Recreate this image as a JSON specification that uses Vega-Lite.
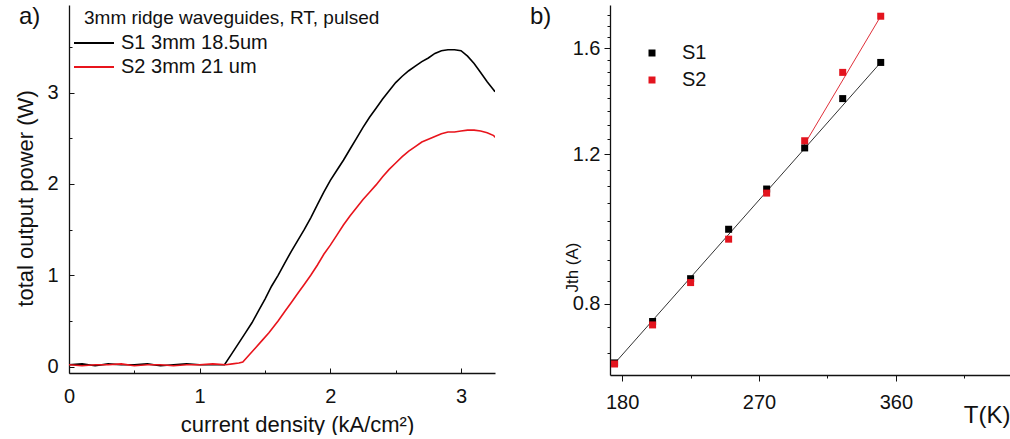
{
  "$schema": "https://vega.github.io/schema/vega-lite/v6.json",
  "padding": {"left": 14, "top": 5, "right": 2, "bottom": 0},
  "background": "white",
  "config": {
    "font": "Liberation Sans",
    "view": {"stroke": null},
    "axis": {"grid": false, "domainColor": "#111", "domainWidth": 1.3, "tickColor": "#111", "tickWidth": 1, "labelColor": "#111", "titleColor": "#111", "labelFontSize": 20, "titleFontSize": 22, "titleFontWeight": "normal", "labelFlush": false, "labelOverlap": false},
    "legend": {"titleFontWeight": "normal", "titleColor": "#111", "labelColor": "#111"},
    "title": {"fontWeight": "normal", "color": "#111"}
  },
  "datasets": {
    "power": [
      {"J": 0.0, "P": 0.02, "sample": "S1 3mm 18.5um"},
      {"J": 0.1, "P": 0.03, "sample": "S1 3mm 18.5um"},
      {"J": 0.2, "P": 0.01, "sample": "S1 3mm 18.5um"},
      {"J": 0.3, "P": 0.03, "sample": "S1 3mm 18.5um"},
      {"J": 0.4, "P": 0.02, "sample": "S1 3mm 18.5um"},
      {"J": 0.5, "P": 0.02, "sample": "S1 3mm 18.5um"},
      {"J": 0.6, "P": 0.03, "sample": "S1 3mm 18.5um"},
      {"J": 0.7, "P": 0.01, "sample": "S1 3mm 18.5um"},
      {"J": 0.8, "P": 0.02, "sample": "S1 3mm 18.5um"},
      {"J": 0.9, "P": 0.03, "sample": "S1 3mm 18.5um"},
      {"J": 1.0, "P": 0.02, "sample": "S1 3mm 18.5um"},
      {"J": 1.1, "P": 0.02, "sample": "S1 3mm 18.5um"},
      {"J": 1.19, "P": 0.02, "sample": "S1 3mm 18.5um"},
      {"J": 1.25, "P": 0.15, "sample": "S1 3mm 18.5um"},
      {"J": 1.3, "P": 0.26, "sample": "S1 3mm 18.5um"},
      {"J": 1.35, "P": 0.37, "sample": "S1 3mm 18.5um"},
      {"J": 1.4, "P": 0.48, "sample": "S1 3mm 18.5um"},
      {"J": 1.45, "P": 0.61, "sample": "S1 3mm 18.5um"},
      {"J": 1.5, "P": 0.74, "sample": "S1 3mm 18.5um"},
      {"J": 1.55, "P": 0.88, "sample": "S1 3mm 18.5um"},
      {"J": 1.6, "P": 1.0, "sample": "S1 3mm 18.5um"},
      {"J": 1.65, "P": 1.13, "sample": "S1 3mm 18.5um"},
      {"J": 1.7, "P": 1.26, "sample": "S1 3mm 18.5um"},
      {"J": 1.75, "P": 1.38, "sample": "S1 3mm 18.5um"},
      {"J": 1.8, "P": 1.5, "sample": "S1 3mm 18.5um"},
      {"J": 1.85, "P": 1.63, "sample": "S1 3mm 18.5um"},
      {"J": 1.9, "P": 1.77, "sample": "S1 3mm 18.5um"},
      {"J": 1.95, "P": 1.91, "sample": "S1 3mm 18.5um"},
      {"J": 2.0, "P": 2.04, "sample": "S1 3mm 18.5um"},
      {"J": 2.05, "P": 2.15, "sample": "S1 3mm 18.5um"},
      {"J": 2.1, "P": 2.26, "sample": "S1 3mm 18.5um"},
      {"J": 2.15, "P": 2.38, "sample": "S1 3mm 18.5um"},
      {"J": 2.2, "P": 2.5, "sample": "S1 3mm 18.5um"},
      {"J": 2.25, "P": 2.62, "sample": "S1 3mm 18.5um"},
      {"J": 2.3, "P": 2.73, "sample": "S1 3mm 18.5um"},
      {"J": 2.35, "P": 2.83, "sample": "S1 3mm 18.5um"},
      {"J": 2.4, "P": 2.93, "sample": "S1 3mm 18.5um"},
      {"J": 2.45, "P": 3.02, "sample": "S1 3mm 18.5um"},
      {"J": 2.5, "P": 3.11, "sample": "S1 3mm 18.5um"},
      {"J": 2.55, "P": 3.18, "sample": "S1 3mm 18.5um"},
      {"J": 2.6, "P": 3.24, "sample": "S1 3mm 18.5um"},
      {"J": 2.65, "P": 3.29, "sample": "S1 3mm 18.5um"},
      {"J": 2.7, "P": 3.34, "sample": "S1 3mm 18.5um"},
      {"J": 2.75, "P": 3.38, "sample": "S1 3mm 18.5um"},
      {"J": 2.8, "P": 3.43, "sample": "S1 3mm 18.5um"},
      {"J": 2.85, "P": 3.46, "sample": "S1 3mm 18.5um"},
      {"J": 2.9, "P": 3.47, "sample": "S1 3mm 18.5um"},
      {"J": 2.95, "P": 3.47, "sample": "S1 3mm 18.5um"},
      {"J": 3.0, "P": 3.46, "sample": "S1 3mm 18.5um"},
      {"J": 3.05, "P": 3.4, "sample": "S1 3mm 18.5um"},
      {"J": 3.1, "P": 3.32, "sample": "S1 3mm 18.5um"},
      {"J": 3.15, "P": 3.22, "sample": "S1 3mm 18.5um"},
      {"J": 3.2, "P": 3.12, "sample": "S1 3mm 18.5um"},
      {"J": 3.25, "P": 3.03, "sample": "S1 3mm 18.5um"},
      {"J": 3.26, "P": 3.01, "sample": "S1 3mm 18.5um"},
      {"J": 0.0, "P": 0.02, "sample": "S2 3mm 21 um"},
      {"J": 0.1, "P": 0.01, "sample": "S2 3mm 21 um"},
      {"J": 0.2, "P": 0.02, "sample": "S2 3mm 21 um"},
      {"J": 0.3, "P": 0.02, "sample": "S2 3mm 21 um"},
      {"J": 0.4, "P": 0.03, "sample": "S2 3mm 21 um"},
      {"J": 0.5, "P": 0.01, "sample": "S2 3mm 21 um"},
      {"J": 0.6, "P": 0.02, "sample": "S2 3mm 21 um"},
      {"J": 0.7, "P": 0.02, "sample": "S2 3mm 21 um"},
      {"J": 0.8, "P": 0.01, "sample": "S2 3mm 21 um"},
      {"J": 0.9, "P": 0.02, "sample": "S2 3mm 21 um"},
      {"J": 1.0, "P": 0.02, "sample": "S2 3mm 21 um"},
      {"J": 1.1, "P": 0.03, "sample": "S2 3mm 21 um"},
      {"J": 1.2, "P": 0.02, "sample": "S2 3mm 21 um"},
      {"J": 1.25, "P": 0.03, "sample": "S2 3mm 21 um"},
      {"J": 1.3, "P": 0.04, "sample": "S2 3mm 21 um"},
      {"J": 1.33, "P": 0.05, "sample": "S2 3mm 21 um"},
      {"J": 1.38, "P": 0.13, "sample": "S2 3mm 21 um"},
      {"J": 1.43, "P": 0.21, "sample": "S2 3mm 21 um"},
      {"J": 1.48, "P": 0.29, "sample": "S2 3mm 21 um"},
      {"J": 1.53, "P": 0.37, "sample": "S2 3mm 21 um"},
      {"J": 1.6, "P": 0.5, "sample": "S2 3mm 21 um"},
      {"J": 1.65, "P": 0.6, "sample": "S2 3mm 21 um"},
      {"J": 1.7, "P": 0.7, "sample": "S2 3mm 21 um"},
      {"J": 1.75, "P": 0.8, "sample": "S2 3mm 21 um"},
      {"J": 1.8, "P": 0.9, "sample": "S2 3mm 21 um"},
      {"J": 1.85, "P": 1.0, "sample": "S2 3mm 21 um"},
      {"J": 1.9, "P": 1.11, "sample": "S2 3mm 21 um"},
      {"J": 1.95, "P": 1.23, "sample": "S2 3mm 21 um"},
      {"J": 2.0, "P": 1.33, "sample": "S2 3mm 21 um"},
      {"J": 2.05, "P": 1.44, "sample": "S2 3mm 21 um"},
      {"J": 2.1, "P": 1.55, "sample": "S2 3mm 21 um"},
      {"J": 2.15, "P": 1.65, "sample": "S2 3mm 21 um"},
      {"J": 2.2, "P": 1.74, "sample": "S2 3mm 21 um"},
      {"J": 2.25, "P": 1.83, "sample": "S2 3mm 21 um"},
      {"J": 2.3, "P": 1.91, "sample": "S2 3mm 21 um"},
      {"J": 2.35, "P": 1.99, "sample": "S2 3mm 21 um"},
      {"J": 2.4, "P": 2.08, "sample": "S2 3mm 21 um"},
      {"J": 2.45, "P": 2.16, "sample": "S2 3mm 21 um"},
      {"J": 2.5, "P": 2.23, "sample": "S2 3mm 21 um"},
      {"J": 2.55, "P": 2.3, "sample": "S2 3mm 21 um"},
      {"J": 2.6, "P": 2.36, "sample": "S2 3mm 21 um"},
      {"J": 2.65, "P": 2.41, "sample": "S2 3mm 21 um"},
      {"J": 2.7, "P": 2.46, "sample": "S2 3mm 21 um"},
      {"J": 2.75, "P": 2.49, "sample": "S2 3mm 21 um"},
      {"J": 2.8, "P": 2.52, "sample": "S2 3mm 21 um"},
      {"J": 2.85, "P": 2.55, "sample": "S2 3mm 21 um"},
      {"J": 2.9, "P": 2.57, "sample": "S2 3mm 21 um"},
      {"J": 2.95, "P": 2.57, "sample": "S2 3mm 21 um"},
      {"J": 3.0, "P": 2.58, "sample": "S2 3mm 21 um"},
      {"J": 3.05, "P": 2.59, "sample": "S2 3mm 21 um"},
      {"J": 3.1, "P": 2.59, "sample": "S2 3mm 21 um"},
      {"J": 3.15, "P": 2.58, "sample": "S2 3mm 21 um"},
      {"J": 3.2, "P": 2.56, "sample": "S2 3mm 21 um"},
      {"J": 3.25, "P": 2.53, "sample": "S2 3mm 21 um"},
      {"J": 3.26, "P": 2.51, "sample": "S2 3mm 21 um"}
    ],
    "jth": [
      {"T": 175, "Jth": 0.681, "series": "S1"},
      {"T": 200, "Jth": 0.762, "series": "S1"},
      {"T": 225, "Jth": 0.856, "series": "S1"},
      {"T": 250, "Jth": 0.979, "series": "S1"},
      {"T": 275, "Jth": 1.092, "series": "S1"},
      {"T": 300, "Jth": 1.221, "series": "S1"},
      {"T": 325, "Jth": 1.396, "series": "S1"},
      {"T": 350, "Jth": 1.54, "series": "S1"},
      {"T": 175, "Jth": 0.679, "series": "S2"},
      {"T": 200, "Jth": 0.755, "series": "S2"},
      {"T": 225, "Jth": 0.847, "series": "S2"},
      {"T": 250, "Jth": 0.953, "series": "S2"},
      {"T": 275, "Jth": 1.08, "series": "S2"},
      {"T": 300, "Jth": 1.245, "series": "S2"},
      {"T": 325, "Jth": 1.499, "series": "S2"},
      {"T": 350, "Jth": 1.746, "series": "S2"}
    ],
    "fitS1": [
      {"T": 175, "Jth": 0.68},
      {"T": 350, "Jth": 1.54}
    ],
    "fitS2": [
      {"T": 299, "Jth": 1.225},
      {"T": 350, "Jth": 1.746}
    ]
  },
  "spacing": 115,
  "bounds": "flush",
  "resolve": {"scale": {"color": "independent"}, "legend": {"color": "independent"}},
  "hconcat": [
    {
      "width": 426,
      "height": 368,
      "title": {"text": "a)", "anchor": "start", "frame": "bounds", "fontSize": 24, "offset": -24, "dx": 5},
      "data": {"name": "power"},
      "mark": {"type": "line", "strokeWidth": 1.6, "clip": true},
      "encoding": {
        "x": {
          "field": "J", "type": "quantitative",
          "scale": {"domain": [0, 3.26], "nice": false, "zero": false},
          "axis": {
            "values": [0, 0.5, 1, 1.5, 2, 2.5, 3],
            "format": ".0f",
            "labelExpr": "datum.value % 1 === 0 ? datum.label : ''",
            "tickSize": {"condition": {"test": "datum.value % 1 !== 0", "value": -3}, "value": -5},
            "labelPadding": 18,
            "title": "current density (kA/cm²)",
            "titleX": 228, "titleY": 51, "titleBaseline": "middle"
          }
        },
        "y": {
          "field": "P", "type": "quantitative",
          "scale": {"domain": [-0.07, 3.96], "nice": false, "zero": false},
          "axis": {
            "values": [0, 0.5, 1, 1.5, 2, 2.5, 3, 3.5],
            "format": ".0f",
            "labelExpr": "datum.value % 1 === 0 ? datum.label : ''",
            "tickSize": {"condition": {"test": "datum.value % 1 !== 0", "value": -3}, "value": -5},
            "labelPadding": 16,
            "title": "total output power (W)",
            "titleX": -44, "titleY": 193, "titleBaseline": "middle", "titleAngle": -90
          }
        },
        "color": {
          "field": "sample", "type": "nominal",
          "scale": {"domain": ["S1 3mm 18.5um", "S2 3mm 21 um"], "range": ["#000000", "#e8141c"]},
          "legend": {
            "orient": "none", "legendX": 15, "legendY": 4,
            "title": "3mm ridge waveguides, RT, pulsed",
            "titleFontSize": 19, "titleLimit": 500, "titlePadding": 5,
            "labelFontSize": 20, "labelLimit": 400, "labelOffset": 17,
            "symbolType": "M-4,0H4", "symbolSize": 100, "symbolStrokeWidth": 1.8,
            "rowPadding": 4
          }
        }
      }
    },
    {
      "width": 400,
      "height": 370,
      "title": {"text": "b)", "anchor": "start", "frame": "group", "fontSize": 24, "offset": -24, "dx": -80},
      "encoding": {
        "x": {
          "field": "T", "type": "quantitative",
          "scale": {"domain": [172, 435], "nice": false, "zero": false},
          "axis": {
            "values": [180, 225, 270, 315, 360, 405],
            "labelExpr": "datum.value % 90 === 0 ? datum.label : ''",
            "tickSize": {"condition": {"test": "datum.value % 90 !== 0", "value": 3}, "value": 6},
            "labelPadding": 11,
            "title": "T(K)", "titleFontSize": 24,
            "titleAnchor": "end", "titleAlign": "right", "titleX": 400, "titleY": 40, "titleBaseline": "middle"
          }
        },
        "y": {
          "field": "Jth", "type": "quantitative",
          "scale": {"type": "log", "domain": [0.659, 1.8], "nice": false, "zero": false},
          "axis": {
            "values": [0.7, 0.75, 0.8, 0.85, 0.9, 0.95, 1.0, 1.05, 1.1, 1.15, 1.2, 1.25, 1.3, 1.35, 1.4, 1.45, 1.5, 1.55, 1.6, 1.65, 1.7, 1.75],
            "format": ".1f",
            "labelExpr": "indexof([0.8, 1.2, 1.6], datum.value) >= 0 ? datum.label : ''",
            "tickSize": {"condition": {"test": "indexof([0.8, 1.2, 1.6], datum.value) < 0", "value": 3}, "value": 6},
            "labelPadding": 4,
            "title": "Jth (A)", "titleFontSize": 17,
            "titleX": -38, "titleY": 262, "titleBaseline": "middle", "titleAngle": -90
          }
        }
      },
      "layer": [
        {
          "data": {"name": "fitS1"},
          "mark": {"type": "line", "color": "#333333", "strokeWidth": 1}
        },
        {
          "data": {"name": "fitS2"},
          "mark": {"type": "line", "color": "#e0303a", "strokeWidth": 1}
        },
        {
          "data": {"name": "jth"},
          "mark": {"type": "square", "size": 49, "opacity": 1},
          "encoding": {
            "color": {
              "field": "series", "type": "nominal",
              "scale": {"domain": ["S1", "S2"], "range": ["#000000", "#e3141e"]},
              "legend": {
                "orient": "none", "legendX": 32, "legendY": 38,
                "title": null,
                "labelFontSize": 20, "labelOffset": 20,
                "symbolType": "square", "symbolSize": 49, "symbolStrokeWidth": 0,
                "rowPadding": 7
              }
            }
          }
        }
      ]
    }
  ]
}
